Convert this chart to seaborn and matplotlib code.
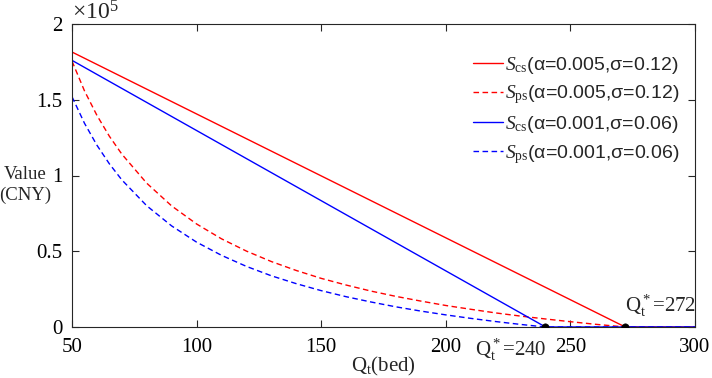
import numpy as np
import pandas as pd
import matplotlib
matplotlib.use("Agg")
import matplotlib.pyplot as plt
import seaborn as sns

# ---- data (values in units of 1e5 CNY) ----
x_pts = [50, 55, 60, 65, 70, 80, 90, 100, 110, 120, 130, 140, 150, 160, 170,
         180, 190, 200, 210, 220, 230, 240, 250, 260, 272, 280, 290, 300]
scs_red = [1.815, None, None, None, None, None, None, None, None, None, None, None, None, None, None,
           None, None, None, None, None, None, None, None, None, 0.0, 0.0, 0.0, 0.0]
sps_red = [1.755, 1.559, 1.397, 1.259, 1.141, 0.949, 0.799, 0.680, 0.582, 0.501, 0.432, 0.373, 0.321,
           0.277, 0.237, 0.202, 0.171, 0.142, 0.117, 0.093, 0.072, 0.053, 0.035, 0.018, 0.0, 0.0, 0.0, 0.0]
scs_blue = [1.760, None, None, None, None, None, None, None, None, None, None, None, None, None, None,
            None, None, None, None, None, None, 0.0, 0.0, 0.0, 0.0, 0.0, 0.0, 0.0]
sps_blue = [1.520, 1.345, 1.200, 1.077, 0.971, 0.800, 0.667, 0.560, 0.473, 0.400, 0.338, 0.286, 0.240,
            0.200, 0.165, 0.133, 0.105, 0.080, 0.057, 0.036, 0.017, 0.0, 0.0, 0.0, 0.0, 0.0, 0.0, 0.0]
q_star = [240, 272]
labels = [r"$\mathit{S}_{\mathrm{cs}}$(α=0.005,σ=0.12)",
          r"$\mathit{S}_{\mathrm{ps}}$(α=0.005,σ=0.12)",
          r"$\mathit{S}_{\mathrm{cs}}$(α=0.001,σ=0.06)",
          r"$\mathit{S}_{\mathrm{ps}}$(α=0.001,σ=0.06)"]
xticks = [50, 100, 150, 200, 250, 300]
yticks = [0, 0.5, 1, 1.5, 2]

sns.set_style("ticks")
plt.rcParams['font.family'] = ['Liberation Serif', 'DejaVu Serif']
plt.rcParams['mathtext.fontset'] = 'custom'
plt.rcParams['mathtext.rm'] = 'Liberation Serif'
plt.rcParams['mathtext.it'] = 'Liberation Serif:italic'
plt.rcParams['mathtext.bf'] = 'Liberation Serif:bold'

fig = plt.figure(figsize=(7.12, 3.78), dpi=100)
ax = fig.add_axes([72/712, 1-327/378, (695-72)/712, (327-24)/378])

def frame(vals):
    d = pd.DataFrame({"x": x_pts, "y": vals}).dropna()
    return d

series = [(scs_red, "#ff0000", "-"), (sps_red, "#ff0000", (0, (4, 2.5))),
          (scs_blue, "#0000ff", "-"), (sps_blue, "#0000ff", (0, (4, 2.5)))]
handles = []
for (vals, col, ls), lab in zip(series, labels):
    sns.lineplot(data=frame(vals), x="x", y="y", ax=ax, color=col, linewidth=1.0,
                 linestyle=ls, label=lab, legend=False)
    handles.append(ax.lines[-1])

sns.scatterplot(x=q_star, y=[0, 0], ax=ax, color="black", s=28, zorder=5, edgecolor="black", legend=False)

ax.set_xlim(50, 300)
ax.set_ylim(0, 2)
ax.set_xticks(xticks)
ax.set_xticklabels([str(v) for v in xticks])
ax.set_yticks(yticks)
ax.set_yticklabels(["0", "0.5", "1", "1.5", "2"])
ax.tick_params(direction="in", top=True, right=True, labelsize=15, length=5, width=0.8,
               colors="#262626", pad=7)
ax.tick_params(axis='x', pad=8)
ax.tick_params(axis='x', labelcolor="black")
ax.tick_params(axis='y', labelcolor="black")
for s in ax.spines.values():
    s.set_visible(True)
    s.set_color("#262626")
    s.set_linewidth(0.8)

ax.set_xlabel(r"$\mathrm{Q}_\mathrm{t}$(bed)", fontsize=15, labelpad=-1.5)
ax.set_ylabel("Value\n(CNY)", fontsize=13.5, rotation=0, linespacing=1.25, va="center")
ax.yaxis.set_label_coords(-0.075, 0.468)
ax.text(0.0, 1.0, r"$\times\mathrm{10}^{\mathrm{5}}$", transform=ax.transAxes, fontsize=17,
        ha="left", va="bottom")

ax.text(286, 0.055, r"$\mathrm{Q}_\mathrm{t}^*$=272", fontsize=15, ha="center", va="bottom")
ax.text(226, -0.065, r"$\mathrm{Q}_\mathrm{t}^*$=240", fontsize=15, ha="center", va="top")

leg = ax.legend(handles=handles, labels=labels, loc="upper right", bbox_to_anchor=(0.987, 0.925),
                frameon=False, prop={"family": "Liberation Sans", "size": 14},
                handlelength=1.55, handletextpad=0.1, labelspacing=0.4, borderaxespad=0)

fig.savefig("out.png", dpi=100)
